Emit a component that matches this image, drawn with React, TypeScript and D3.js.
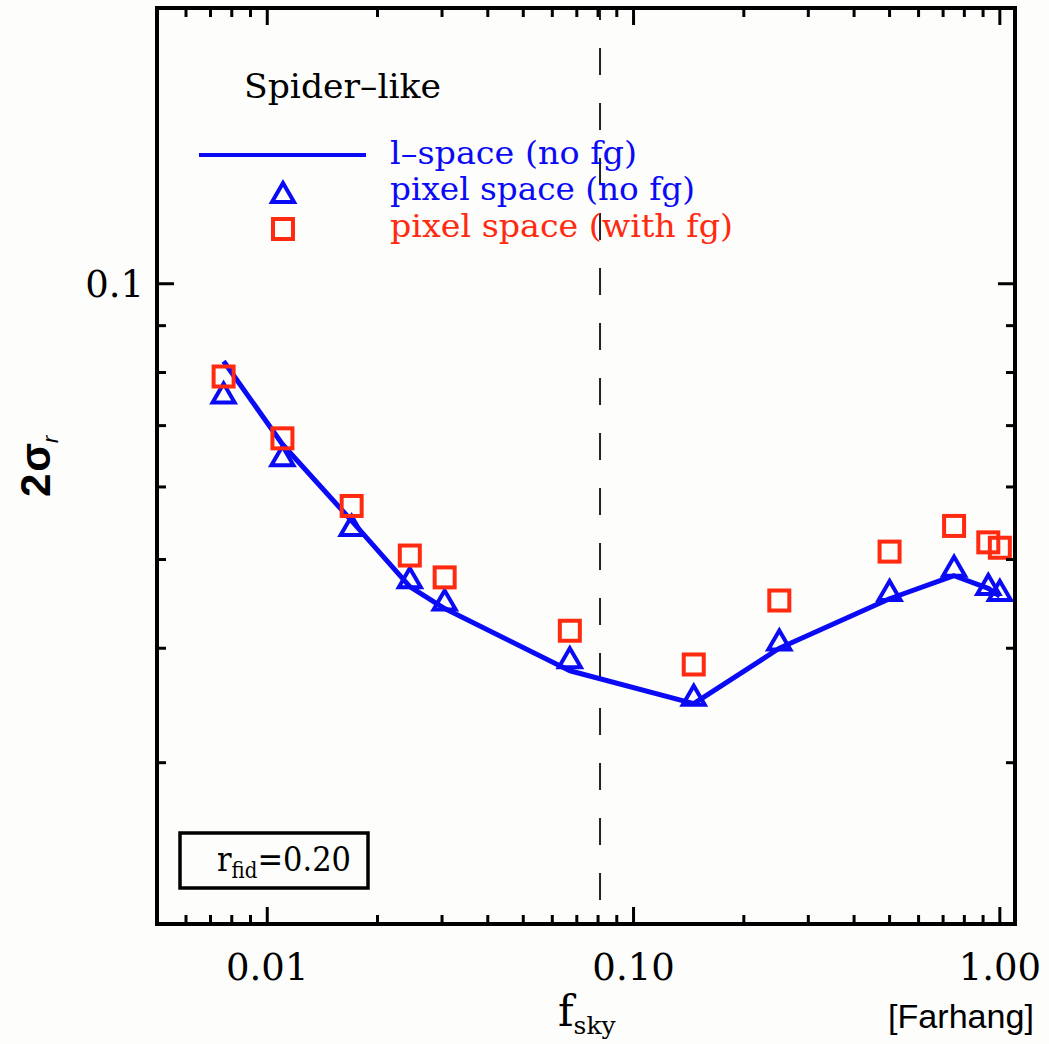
import React from 'react';
import * as d3 from 'd3';

// ---- data ----
const fsky = [0.0076, 0.011, 0.017, 0.0245, 0.0305, 0.067, 0.146, 0.25, 0.5, 0.75, 0.93, 1.0];
const lSpaceNoFg = [0.0823, 0.0668, 0.0551, 0.0467, 0.0442, 0.0378, 0.0348, 0.04, 0.0453, 0.048, 0.0465, 0.0456];
const pixelNoFg = [0.0759, 0.0648, 0.0544, 0.0477, 0.0451, 0.039, 0.0355, 0.0408, 0.0462, 0.0491, 0.0469, 0.0462];
const pixelWithFg = [0.0792, 0.0678, 0.0572, 0.0505, 0.0478, 0.0418, 0.0384, 0.0451, 0.051, 0.0544, 0.0522, 0.0515];
const xMajorTicks = [0.01, 0.1, 1.0];
const xTickLabels = ['0.01', '0.10', '1.00'];
const yMajorTicks = [0.1];
const yTickLabels = ['0.1'];
const fskyCut = 0.081;
const legendLabels = ['l\u2013space (no fg)', 'pixel space (no fg)', 'pixel space (with fg)'];

const W = 1049;
const H = 1044;
const L = 157, R = 1015, T = 8, B = 924;
const BLUE = '#0a0af5';
const RED = '#ff2a10';
const SERIF = '"DejaVu Serif", serif';

export default function App() {
  const x = d3.scaleLog().domain([0.005, 1.1]).range([L, R]);
  const y = d3.scaleLog().domain([0.02, 0.2]).range([B, T]);

  const xMinor = x.ticks().filter((t) => !xMajorTicks.some((m) => Math.abs(m - t) < 1e-9));
  const yMinor = y.ticks().filter((t) => !yMajorTicks.some((m) => Math.abs(m - t) < 1e-9));

  const line = d3
    .line<number>()
    .x((_, i) => x(fsky[i]))
    .y((d) => y(d));

  const tri = (cx: number, cy: number) =>
    `M${cx},${cy - 10} L${cx + 11},${cy + 9} L${cx - 11},${cy + 9} Z`;

  const majLen = 17, minLen = 9;

  return (
    <svg
      width={W}
      height={H}
      style={{ position: 'absolute', left: 0, top: 0, background: '#fdfdfb' }}
    >
      <rect x={0} y={0} width={W} height={H} fill="#fdfdfb" />

      {/* dashed vertical line */}
      <line
        x1={x(fskyCut)}
        x2={x(fskyCut)}
        y1={T}
        y2={B}
        stroke="#222"
        strokeWidth={2}
        strokeDasharray="27 28"
        strokeDashoffset={-40}
      />

      {/* l-space line */}
      <path d={line(lSpaceNoFg) || ''} fill="none" stroke={BLUE} strokeWidth={5} strokeLinejoin="round" />

      {/* triangles */}
      {pixelNoFg.map((v, i) => (
        <path key={'t' + i} d={tri(x(fsky[i]), y(v))} fill="none" stroke={BLUE} strokeWidth={4} />
      ))}
      {/* squares */}
      {pixelWithFg.map((v, i) => (
        <rect
          key={'s' + i}
          x={x(fsky[i]) - 10}
          y={y(v) - 10}
          width={20}
          height={20}
          fill="none"
          stroke={RED}
          strokeWidth={4}
        />
      ))}

      {/* ticks */}
      <g stroke="#000" strokeWidth={3}>
        {xMajorTicks.map((t) => (
          <g key={'xm' + t}>
            <line x1={x(t)} x2={x(t)} y1={B} y2={B - majLen} />
            <line x1={x(t)} x2={x(t)} y1={T} y2={T + majLen} />
          </g>
        ))}
        {xMinor.map((t) => (
          <g key={'xn' + t}>
            <line x1={x(t)} x2={x(t)} y1={B} y2={B - minLen} />
            <line x1={x(t)} x2={x(t)} y1={T} y2={T + minLen} />
          </g>
        ))}
        {yMajorTicks.map((t) => (
          <g key={'ym' + t}>
            <line x1={L} x2={L + majLen} y1={y(t)} y2={y(t)} />
            <line x1={R} x2={R - majLen} y1={y(t)} y2={y(t)} />
          </g>
        ))}
        {yMinor.map((t) => (
          <g key={'yn' + t}>
            <line x1={L} x2={L + minLen} y1={y(t)} y2={y(t)} />
            <line x1={R} x2={R - minLen} y1={y(t)} y2={y(t)} />
          </g>
        ))}
      </g>

      {/* frame */}
      <rect x={L} y={T} width={R - L} height={B - T} fill="none" stroke="#000" strokeWidth={4} />

      {/* tick labels */}
      {xMajorTicks.map((t, i) => (
        <text key={'xl' + t} x={x(t)} y={980} textAnchor="middle" fontFamily={SERIF} fontSize={37} fill="#000">
          {xTickLabels[i]}
        </text>
      ))}
      {yMajorTicks.map((t, i) => (
        <text key={'yl' + t} x={144} y={y(t) + 13} textAnchor="end" fontFamily={SERIF} fontSize={37} fill="#000">
          {yTickLabels[i]}
        </text>
      ))}

      {/* axis titles */}
      <text x={558} y={1026} fontFamily={SERIF} fontSize={42} fill="#000">
        f
        <tspan fontSize={25} dy={8}>sky</tspan>
      </text>
      <text
        transform="translate(50,497) rotate(-90)"
        fontFamily='"Liberation Sans", Arial, sans-serif'
        fontWeight="bold"
        fontSize={42}
        fill="#000"
      >
        2
        <tspan dx={2}>σ</tspan>
        <tspan fontSize={22} fontStyle="italic" fontWeight="normal" dy={8}>r</tspan>
      </text>
      <text
        x={888}
        y={1028}
        fontFamily='"Liberation Sans", Arial, sans-serif'
        fontSize={33}
        fill="#000"
        textLength={146}
        lengthAdjust="spacingAndGlyphs"
      >
        [Farhang]
      </text>

      {/* title and legend */}
      <text x={244} y={98} fontFamily={SERIF} fontSize={34} fill="#000" textLength={197} lengthAdjust="spacingAndGlyphs">
        Spider–like
      </text>
      <line x1={199} x2={366} y1={155} y2={155} stroke={BLUE} strokeWidth={4} />
      <path d={tri(283, 193)} fill="none" stroke={BLUE} strokeWidth={4} />
      <rect x={273} y={219} width={20} height={20} fill="none" stroke={RED} strokeWidth={4} />
      <text x={390} y={164} fontFamily={SERIF} fontSize={31} fill={BLUE} textLength={247} lengthAdjust="spacingAndGlyphs">
        {legendLabels[0]}
      </text>
      <text x={390} y={200} fontFamily={SERIF} fontSize={31} fill={BLUE} textLength={305} lengthAdjust="spacingAndGlyphs">
        {legendLabels[1]}
      </text>
      <text x={390} y={237} fontFamily={SERIF} fontSize={31} fill={RED} textLength={343} lengthAdjust="spacingAndGlyphs">
        {legendLabels[2]}
      </text>

      {/* r_fid box */}
      <rect x={180} y={833} width={188} height={55} fill="none" stroke="#000" strokeWidth={3.5} />
      <text x={217} y={871} fontFamily={SERIF} fontSize={34} fill="#000" textLength={134} lengthAdjust="spacingAndGlyphs">
        r<tspan fontSize={22} dy={7}>fid</tspan>
        <tspan dy={-7}>=0.20</tspan>
      </text>
    </svg>
  );
}
